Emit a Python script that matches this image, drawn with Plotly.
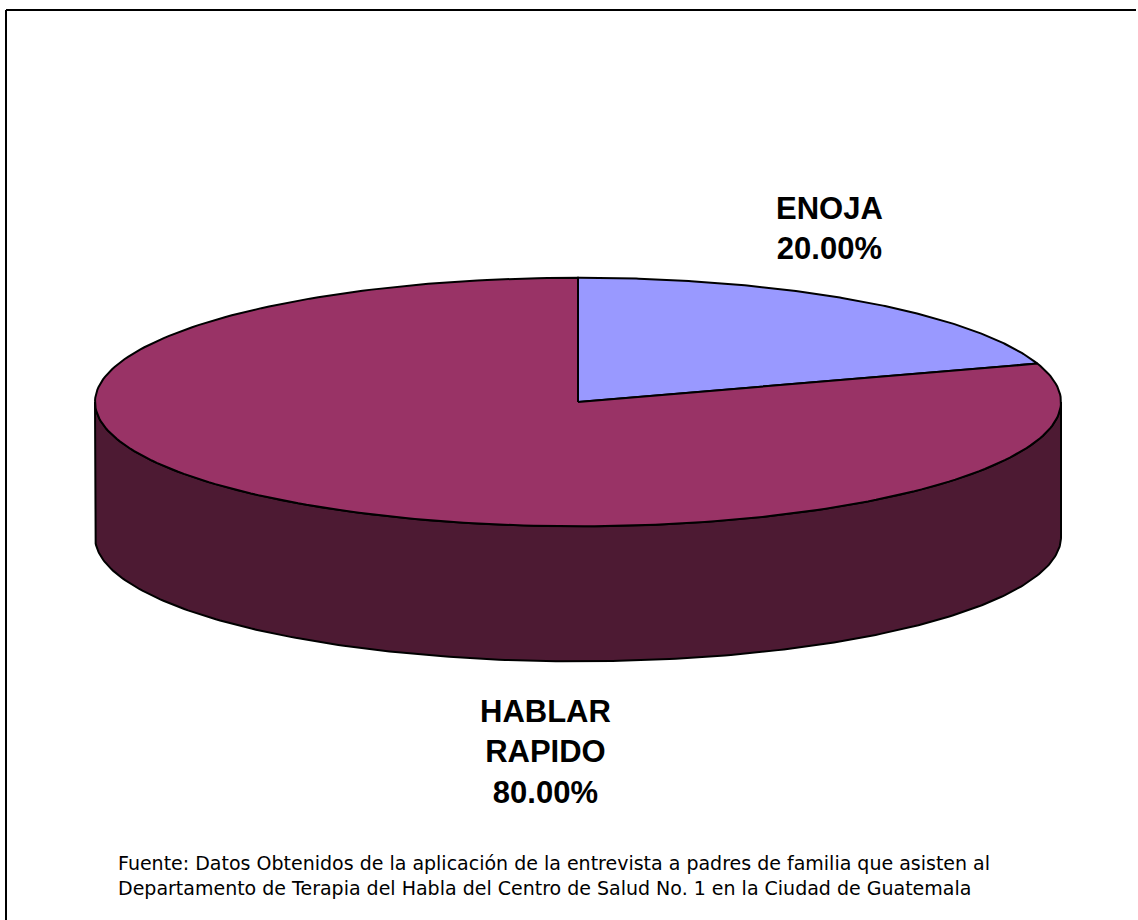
import numpy as np
import plotly.graph_objects as go

# Data
categories = ["ENOJA", "HABLAR RAPIDO"]
percentages = [20.0, 80.0]
top_colors = ["#9999FF", "#993366"]
side_colors = ["#4D4D80", "#4D1A33"]
source_lines = [
    "Fuente: Datos Obtenidos de la aplicación de la entrevista a padres de familia que asisten al",
    "Departamento de Terapia del Habla del Centro de Salud No. 1 en la Ciudad de Guatemala",
]

# Geometry of the 3-D pie (axis units = pixels, y grows downward)
W, H = 1138, 920
CX, CY = 578, 402
RX, RY = 483, 124.3
DEPTH = 135
OUTLINE = dict(color="black", width=2)

# Label anchors for each category (centre of text block)
label_pos = {"ENOJA": (829.5, 228), "HABLAR RAPIDO": (545, 752)}


def arc(t1, t2, dy=0.0, n=240):
    t = np.radians(np.linspace(t1, t2, n))
    return CX + RX * np.sin(t), CY + dy - RY * np.cos(t)


fig = go.Figure()

total = sum(percentages)
bounds = []
start = 0.0
for v in percentages:
    end = start + 360.0 * v / total
    bounds.append((start, end))
    start = end

# Front wall: only the part of each slice between 90 and 270 degrees faces the viewer
for (t1, t2), col in zip(bounds, side_colors):
    a, b = max(t1, 90.0), min(t2, 270.0)
    if b <= a:
        continue
    xt, yt = arc(a, b)
    xb, yb = arc(b, a, dy=DEPTH)
    fig.add_trace(go.Scatter(
        x=np.concatenate([xt, xb, xt[:1]]),
        y=np.concatenate([yt, yb, yt[:1]]),
        mode="lines", fill="toself", fillcolor=col,
        line=OUTLINE, hoverinfo="skip", showlegend=False,
    ))

# Top faces of the slices
for (t1, t2), col, name in zip(bounds, top_colors, categories):
    xs, ys = arc(t1, t2)
    fig.add_trace(go.Scatter(
        x=np.concatenate([[CX], xs, [CX]]),
        y=np.concatenate([[CY], ys, [CY]]),
        mode="lines", fill="toself", fillcolor=col,
        line=OUTLINE, name=name, hoverinfo="name", showlegend=False,
    ))

# Category labels with percentages
for name, v in zip(categories, percentages):
    lx, ly = label_pos[name]
    fig.add_annotation(
        x=lx, y=ly, xref="x", yref="y",
        text=f"{name.replace(' ', '<br>')}<br>{v / total * 100:.2f}%",
        showarrow=False, align="center", xanchor="center", yanchor="middle",
        font=dict(family="Liberation Sans, Arial", size=31, color="black", weight="bold"),
    )

# Source note
for i, line in enumerate(source_lines):
    fig.add_annotation(
        x=116, y=863 + 25 * i, xref="x", yref="y",
        text=line, showarrow=False, xanchor="left", yanchor="middle",
        font=dict(family="DejaVu Sans", size=19, color="black"),
    )

# Chart frame: left and top edges
fig.add_shape(type="line", x0=6, y0=10, x1=6, y1=H + 20,
              xref="x", yref="y", line=dict(color="black", width=2))
fig.add_shape(type="line", x0=6, y0=10, x1=W - 2, y1=10,
              xref="x", yref="y", line=dict(color="black", width=2))

fig.update_layout(
    width=W, height=H,
    margin=dict(l=0, r=0, t=0, b=0),
    paper_bgcolor="white", plot_bgcolor="white",
    xaxis=dict(range=[0, W], visible=False, fixedrange=True),
    yaxis=dict(range=[H, 0], visible=False, fixedrange=True),
)

fig.write_html("out.html")
